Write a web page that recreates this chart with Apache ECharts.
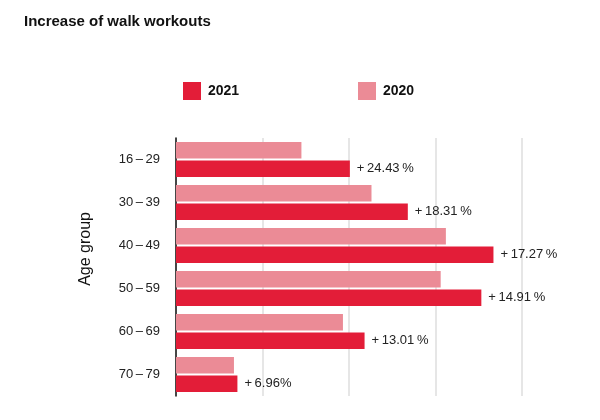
<!DOCTYPE html>
<html>
<head>
<meta charset="utf-8">
<script src="https://cdn.jsdelivr.net/npm/echarts@6/dist/echarts.min.js"></script>
<style>html,body{margin:0;padding:0;background:#fff;}#c{width:600px;height:420px;}</style>
</head>
<body>
<div id="c"></div>
<script>
const categories = ['16\u2009–\u200929', '30\u2009–\u200939', '40\u2009–\u200949', '50\u2009–\u200959', '60\u2009–\u200969', '70\u2009–\u200979'];
const values2020 = [145, 226, 312, 306, 193, 67];
const values2021 = [201, 268, 367, 353, 218, 71];
const increaseLabels = ['+\u200924.43\u2009%', '+\u200918.31\u2009%', '+\u200917.27\u2009%', '+\u200914.91\u2009%', '+\u200913.01\u2009%', '+\u20096.96%'];
const xTicks = [0, 100, 200, 300, 400];

const RED = '#e31d38';
const PINK = '#eb8b96';
const FONT = 'Liberation Sans';

const chart = echarts.init(document.getElementById('c'), null, { renderer: 'canvas' });
chart.setOption({
  animation: false,
  backgroundColor: '#fff',
  textStyle: { fontFamily: FONT },
  title: {
    text: 'Increase of walk workouts',
    left: 24, top: 14, padding: 0,
    textStyle: { fontFamily: FONT, fontSize: 15, fontWeight: 'bold', color: '#111' }
  },
  legend: [
    { data: ['2021'], left: 183, top: 82, padding: 0, icon: 'rect', itemWidth: 18, itemHeight: 18, itemGap: 0,
      textStyle: { fontFamily: FONT, fontSize: 14, fontWeight: 'bold', color: '#111', padding: [0, 0, 0, 2] } },
    { data: ['2020'], left: 358, top: 82, padding: 0, icon: 'rect', itemWidth: 18, itemHeight: 18, itemGap: 0,
      textStyle: { fontFamily: FONT, fontSize: 14, fontWeight: 'bold', color: '#111', padding: [0, 0, 0, 2] } }
  ],
  graphic: [{
    type: 'text', left: 78, top: 212, rotation: Math.PI / 2,
    style: { text: 'Age group', font: '16px ' + FONT, fill: '#111' }
  }],
  grid: { left: 176, right: 78, top: 138, bottom: 24, containLabel: false },
  xAxis: {
    type: 'value', min: xTicks[0], max: xTicks[xTicks.length - 1], interval: xTicks[1] - xTicks[0],
    axisLine: { show: false }, axisTick: { show: false }, axisLabel: { show: false },
    splitLine: { show: true, lineStyle: { color: '#dedede', width: 1.5 } }
  },
  yAxis: {
    type: 'category', data: categories, inverse: true,
    axisLine: { show: true, lineStyle: { color: '#111', width: 1.5 } },
    axisTick: { show: false },
    axisLabel: { margin: 16, fontFamily: FONT, fontSize: 13, color: '#222' }
  },
  series: [
    { name: '2020', type: 'bar', data: values2020, barWidth: 16.5, barGap: '12%',
      itemStyle: { color: PINK } },
    { name: '2021', type: 'bar', data: values2021, barWidth: 16.5, barGap: '12%',
      itemStyle: { color: RED },
      label: { show: true, position: 'right', distance: 7, fontFamily: FONT, fontSize: 13, color: '#222',
        formatter: p => increaseLabels[p.dataIndex] } }
  ]
});
</script>
</body>
</html>
